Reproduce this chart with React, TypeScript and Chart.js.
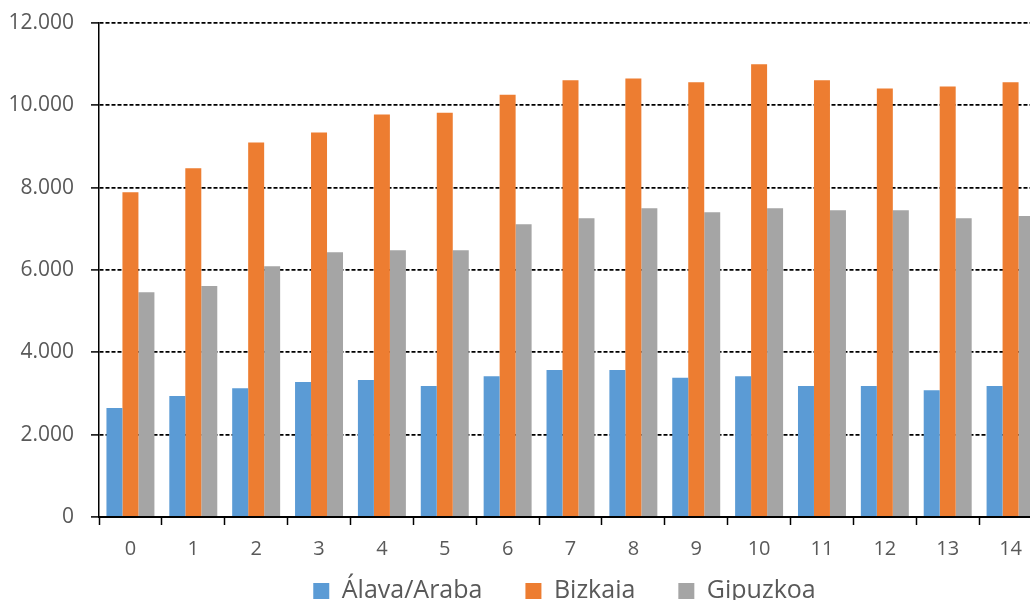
import React, { useEffect, useRef } from "react";
import { Chart, registerables } from "chart.js";

Chart.register(...registerables);

const categories = ["0", "1", "2", "3", "4", "5", "6", "7", "8", "9", "10", "11", "12", "13", "14"];
const alava = [2650, 2940, 3130, 3280, 3330, 3180, 3420, 3570, 3570, 3380, 3420, 3180, 3180, 3080, 3180];
const bizkaia = [7890, 8470, 9100, 9340, 9780, 9820, 10260, 10610, 10650, 10560, 11000, 10610, 10410, 10460, 10560];
const gipuzkoa = [5460, 5610, 6090, 6430, 6480, 6480, 7110, 7260, 7500, 7400, 7500, 7450, 7450, 7260, 7310];
const yTicks = [0, 2000, 4000, 6000, 8000, 10000, 12000];

const CANVAS_W = 1129;
const CANVAS_H = 653;
const LEGEND_SHIFT_Y = -37.5;

const fmt = (v: number) => {
  const s = Math.round(v).toString();
  return s.replace(/\B(?=(\d{3})+(?!\d))/g, ".");
};

const legendPlacement = {
  id: "legendPlacement",
  afterLayout(chart: any) {
    const lg = chart.legend;
    if (!lg) return;
    lg.left = 0;
    lg.right = chart.width;
    lg.width = chart.width;
    lg.top += LEGEND_SHIFT_Y;
    lg.bottom += LEGEND_SHIFT_Y;
  },
};

export default function App() {
  const ref = useRef<HTMLCanvasElement>(null);
  useEffect(() => {
    if (!ref.current) return;
    const textColor = "#595959";
    const font = "'Open Sans', sans-serif";
    const chart = new Chart(ref.current, {
      type: "bar",
      data: {
        labels: categories,
        datasets: [
          { label: "Álava/Araba", data: alava, backgroundColor: "#5B9BD5" },
          { label: "Bizkaia", data: bizkaia, backgroundColor: "#ED7D31" },
          { label: "Gipuzkoa", data: gipuzkoa, backgroundColor: "#A5A5A5" },
        ],
      },
      plugins: [legendPlacement],
      options: {
        animation: false,
        responsive: false,
        maintainAspectRatio: false,
        devicePixelRatio: 1,
        datasets: { bar: { categoryPercentage: 0.763, barPercentage: 1.0 } },
        layout: { padding: { left: 10, right: 87, top: 23, bottom: 2 } },
        plugins: {
          legend: {
            position: "bottom",
            labels: {
              boxWidth: 16,
              boxHeight: 16,
              padding: 43,
              color: textColor,
              font: { family: font, size: 25 },
            },
          },
          tooltip: { enabled: false },
        },
        scales: {
          x: {
            grid: {
              display: true,
              drawOnChartArea: false,
              drawTicks: true,
              tickLength: 8,
              tickColor: "#000000",
              tickWidth: 1.5,
            },
            border: { display: true, color: "#000000", width: 2 },
            ticks: { color: textColor, font: { family: font, size: 20 }, padding: 12, maxRotation: 0 },
          },
          y: {
            min: 0,
            max: 12000,
            afterFit: (scale: any) => {
              scale.width = 89;
              scale.paddingTop = 0;
            },
            afterBuildTicks: (scale: any) => {
              scale.ticks = yTicks.map((v) => ({ value: v }));
            },
            grid: {
              color: (ctx: any) => (ctx.tick && ctx.tick.value === 0 ? "rgba(0,0,0,0)" : "#000000"),
              lineWidth: 1.8,
              tickLength: 8,
              tickColor: "#000000",
              tickWidth: 1.5,
              tickBorderDash: [],
            },
            border: { display: true, color: "#000000", width: 1.5, dash: [4, 2] },
            ticks: {
              color: textColor,
              font: { family: font, size: 21 },
              padding: 17,
              callback: (v: any) => fmt(Number(v)),
            },
          },
        },
      },
    });
    return () => chart.destroy();
  }, []);
  return (
    <div style={{ position: "fixed", left: 0, top: 0, width: 1030, height: 600, overflow: "hidden", background: "#fff" }}>
      <canvas ref={ref} width={CANVAS_W} height={CANVAS_H} style={{ width: CANVAS_W, height: CANVAS_H, display: "block" }} />
    </div>
  );
}
